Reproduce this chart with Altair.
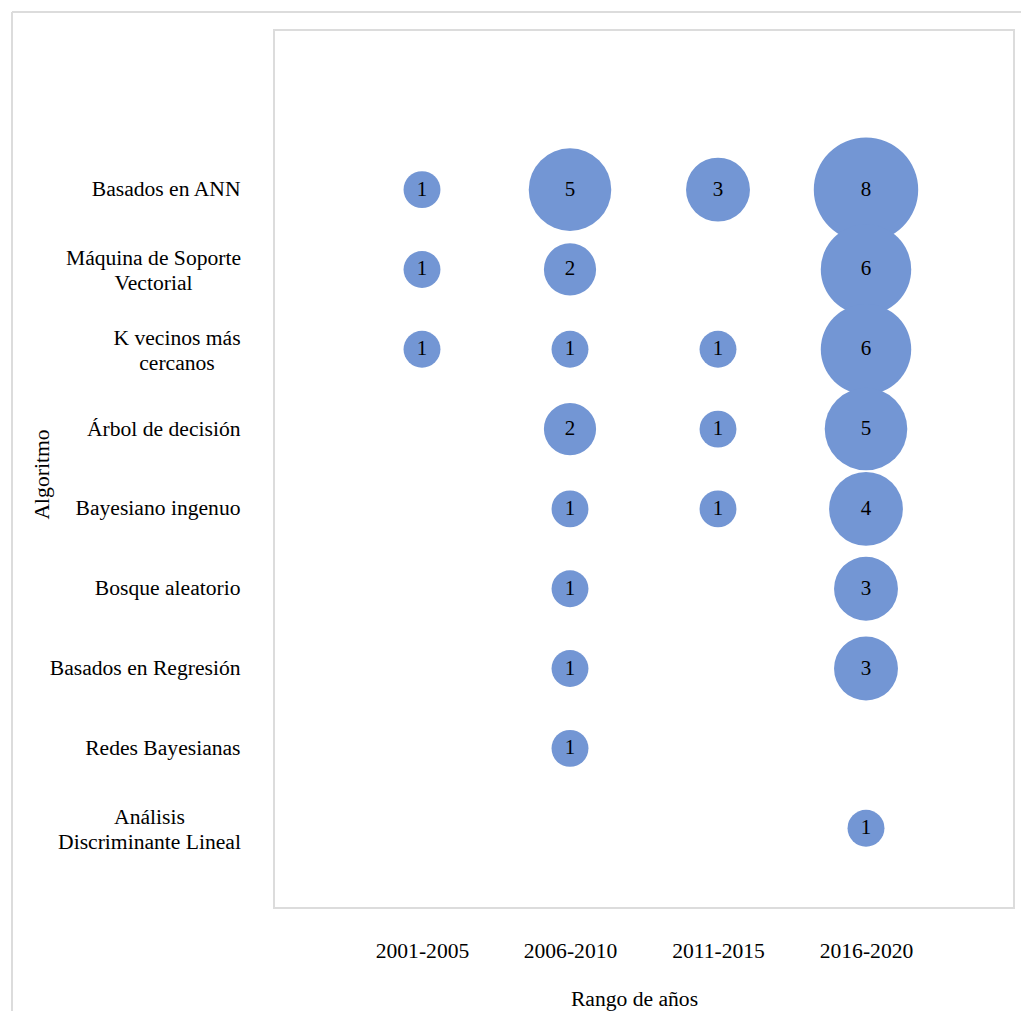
import altair as alt
import pandas as pd

# Algorithms (top to bottom) and publication counts per period
algorithms = [
    "Basados en ANN",
    "Máquina de Soporte\nVectorial",
    "K vecinos más\ncercanos",
    "Árbol de decisión",
    "Bayesiano ingenuo",
    "Bosque aleatorio",
    "Basados en Regresión",
    "Redes Bayesianas",
    "Análisis\nDiscriminante Lineal",
]
periods = ["2001-2005", "2006-2010", "2011-2015", "2016-2020"]

# None = no publications in that period
counts = [
    [1, 5, 3, 8],
    [1, 2, None, 6],
    [1, 1, 1, 6],
    [None, 2, 1, 5],
    [None, 1, 1, 4],
    [None, 1, None, 3],
    [None, 1, None, 3],
    [None, 1, None, None],
    [None, None, None, 1],
]

rows = []
for alg, vals in zip(algorithms, counts):
    for per, v in zip(periods, vals):
        if v is not None:
            rows.append({"Algoritmo": alg, "Periodo": per, "Cantidad": v})
df = pd.DataFrame(rows)

FONT = "Liberation Serif"
FS = 21.6
BLUE = "#7396D4"
BORDER = "#DCDCDC"

# a blank slot above the first algorithm leaves the extra space at the top
y_domain = [" "] + algorithms

# two-line labels are centred as a block whose right edge lines up with the others
multi = "indexof(datum.value, '\\n') >= 0"
pad_rules = [
    {"test": "indexof(datum.value, 'Máquina') == 0", "value": 121},
    {"test": "indexof(datum.value, 'K vecinos') == 0", "value": 97.5},
    {"test": "indexof(datum.value, 'Análisis') == 0", "value": 125},
]

x_enc = alt.X(
    "Periodo:N",
    sort=periods,
    scale=alt.Scale(type="point", domain=periods, padding=1),
    axis=alt.Axis(
        title="Rango de años",
        ticks=False,
        domain=False,
        grid=False,
        labelAngle=0,
        labelPadding=32,
        labelFontSize=FS,
        labelFont=FONT,
        labelColor="black",
        titleFont=FONT,
        titleFontSize=FS,
        titleFontWeight="normal",
        titleColor="black",
        titleX=360,
        titleY=91,
        titleAnchor="middle",
        titleBaseline="middle",
    ),
)
y_enc = alt.Y(
    "Algoritmo:N",
    scale=alt.Scale(type="point", domain=y_domain, padding=1),
    axis=alt.Axis(
        title="Algoritmo",
        ticks=False,
        domain=False,
        grid=False,
        labelPadding={"condition": pad_rules, "value": 34},
        labelAlign={"condition": {"test": multi, "value": "center"}, "value": "right"},
        labelOffset={"condition": {"test": multi, "value": -11}, "value": 0},
        labelFontSize=FS,
        labelFont=FONT,
        labelColor="black",
        labelLimit=400,
        labelLineHeight=25,
        labelExpr="split(datum.label, '\\n')",
        titleFont=FONT,
        titleFontSize=FS,
        titleFontWeight="normal",
        titleColor="black",
        titleAngle=270,
        titleX=-232,
        titleY=444,
        titleAlign="center",
        titleBaseline="middle",
    ),
)

base = alt.Chart(df).encode(x=x_enc, y=y_enc)

# symbol size is the area of the bounding square, i.e. diameter squared
bubbles = base.mark_circle(opacity=1, color=BLUE).encode(
    size=alt.Size(
        "Cantidad:Q",
        scale=alt.Scale(type="linear", domain=[0, 8], range=[0, 10900]),
        legend=None,
    )
)

labels = base.mark_text(font=FONT, fontSize=21, color="black", baseline="middle").encode(
    text="Cantidad:Q"
)

# outer frame lines (top and left edges of the figure border)
frame_top = alt.Chart(pd.DataFrame({"k": [0]})).mark_rule(color=BORDER, strokeWidth=2, clip=False).encode(
    x=alt.value(-262), x2=alt.value(760), y=alt.value(-18)
)
frame_left = alt.Chart(pd.DataFrame({"k": [0]})).mark_rule(color=BORDER, strokeWidth=2, clip=False).encode(
    x=alt.value(-262), y=alt.value(-18), y2=alt.value(1000)
)

chart = (
    alt.layer(frame_top, frame_left, bubbles, labels)
    .properties(
        width=740,
        height=878,
        autosize=alt.AutoSizeParams(type="none"),
        padding={"left": 274, "top": 30, "right": 7, "bottom": 103},
        background="white",
    )
    .configure_view(stroke=BORDER, strokeWidth=2)
)

chart.save("out.html", embed_options={"renderer": "svg", "actions": False})
